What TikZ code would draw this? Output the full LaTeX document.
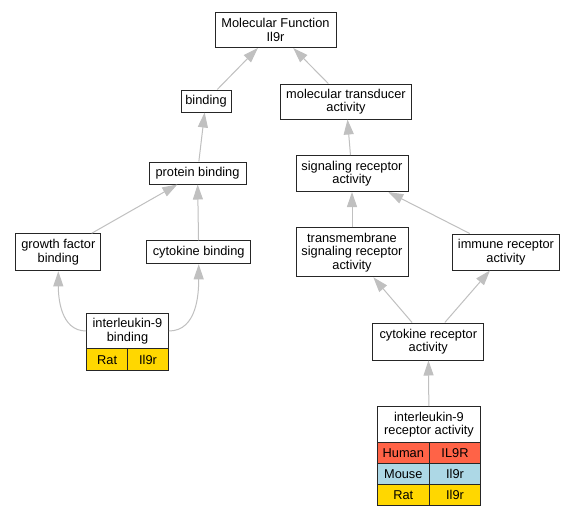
\documentclass[tikz,border=0pt]{standalone}
\usepackage{fontspec}
\setmainfont{Liberation Sans}
\usetikzlibrary{arrows.meta}
\definecolor{edgegray}{HTML}{C0C0C0}
\definecolor{human}{HTML}{FF6347}
\definecolor{mouse}{HTML}{ADD8E6}
\definecolor{rat}{HTML}{FFD700}

\begin{document}
\begin{tikzpicture}[x=1pt, y=-1pt,
  term/.style={draw=black!85, fill=#1, line width=1pt, inner sep=0pt,
               align=center, font=\fontsize{12.8}{13.5}\selectfont},
  term/.default=white,
  sz/.style 2 args={minimum width=#1pt, minimum height=#2pt},
  isa/.style={draw=edgegray, line width=1pt,
              -{Triangle[length=15pt, width=10pt]}},
]
\useasboundingbox[fill=white] (0,0) rectangle (576,517);

% --- Root ---
\node[term, sz={121}{35}] (mf) at (275.5,30) {Molecular Function\\Il9r};

% --- Binding branch ---
\node[term, sz={50}{22}]  (bind) at (206,101)    {binding};
\node[term, sz={97}{22}]  (pb)   at (197.5,173)  {protein binding};
\node[term, sz={85}{37}]  (gfb)  at (58.3,252.3) {growth factor\\binding};
\node[term, sz={104}{23}] (cb)   at (198.7,252.3) {cytokine binding};

% --- Transducer branch ---
\node[term, sz={131}{35}]   (mta)  at (346,101.5) {molecular transducer\\activity};
\node[term, sz={112}{36}]   (sra)  at (352,173.5) {signaling receptor\\activity};
\node[term, sz={112}{49}]   (tsra) at (352,252.3) {transmembrane\\signaling receptor\\activity};
\node[term, sz={106.6}{36}] (ira)  at (506,252)   {immune receptor\\activity};
\node[term, sz={111.3}{37}] (crc)  at (428.3,341.5) {cytokine receptor\\activity};

% --- Annotated terms ---
\node[term, sz={81.6}{36}]       (il9b)     at (127.5,331) {interleukin-9\\binding};
\node[term=rat, sz={41}{21.7}]   (il9bsp)   at (107.2,359.8) {Rat};
\node[term=rat, sz={40.6}{21.7}] (il9bgene) at (148,359.8)   {Il9r};

\node[term, sz={103.4}{36}]        (il9ra) at (429,424.7)  {interleukin-9\\receptor activity};
\node[term=human, sz={52}{20.6}]   (humsp)   at (403.3,453)   {Human};
\node[term=human, sz={51.4}{20.6}] (humgene) at (455,453)     {IL9R};
\node[term=mouse, sz={52}{21}]     (mussp)   at (403.3,473.8) {Mouse};
\node[term=mouse, sz={51.4}{21}]   (musgene) at (455,473.8)   {Il9r};
\node[term=rat, sz={52}{20.7}]     (ratsp)   at (403.3,494.7) {Rat};
\node[term=rat, sz={51.4}{20.7}]   (ratgene) at (455,494.7)   {Il9r};

% --- is-a edges ---
\draw[isa] (bind) -- (mf);
\draw[isa] (mta) -- (mf);
\draw[isa] (pb) -- (bind);
\draw[isa] (gfb) -- (pb);
\draw[isa] (cb) -- (pb);
\draw[isa] (sra) -- (mta);
\draw[isa] (tsra) -- (sra);
\draw[isa] (ira) -- (sra);
\draw[isa] (crc) -- (tsra);
\draw[isa] (crc) -- (ira);
\draw[isa] (il9ra) -- (crc);
\draw[isa] (il9b.west) to[out=180, in=-90] (gfb.south);
\draw[isa] (il9b.east) to[out=0, in=-90] (cb.south);

\end{tikzpicture}
\end{document}
